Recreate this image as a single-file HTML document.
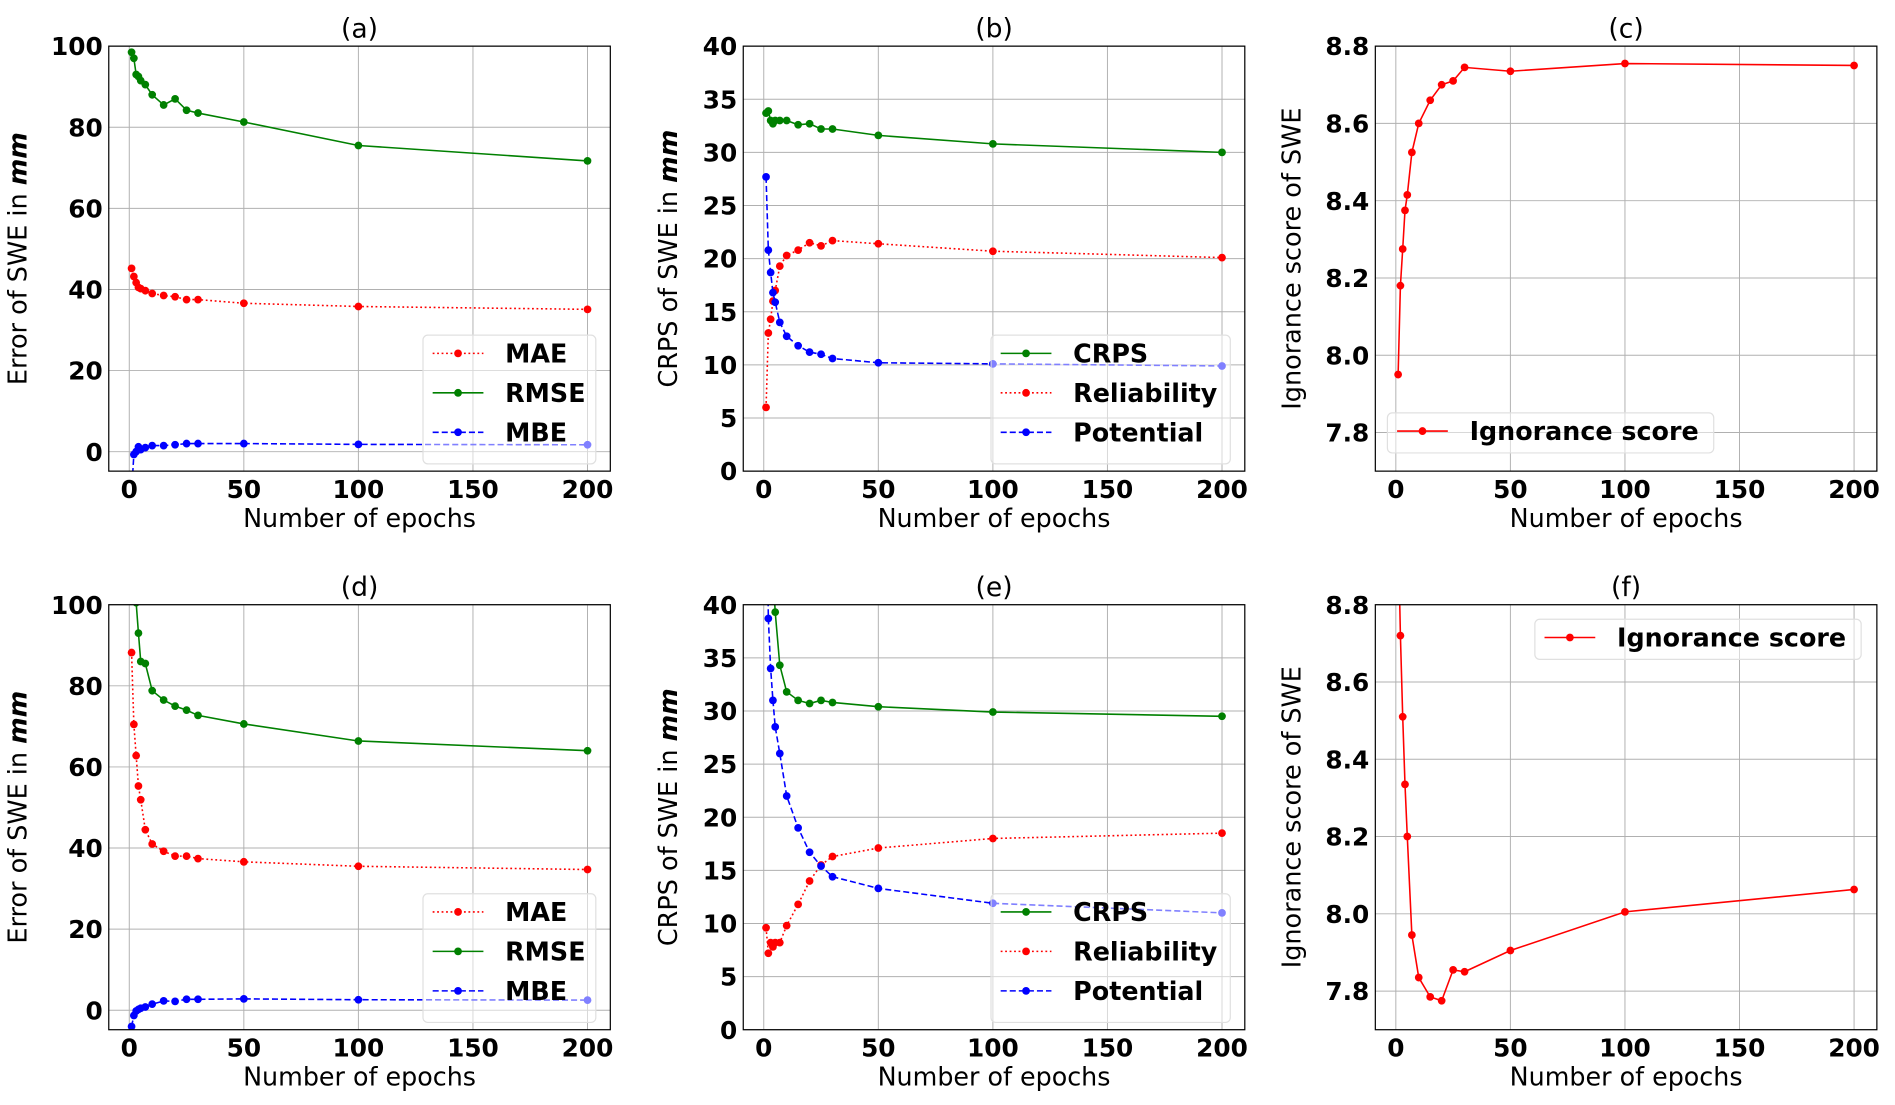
<!DOCTYPE html>
<html><head><meta charset="utf-8"><style>
html,body{margin:0;padding:0;background:#fff;}
svg{display:block;font-family:"DejaVu Sans","Liberation Sans",sans-serif;}
</style></head><body>
<svg id="fig" width="1895" height="1105" viewBox="0 0 1568 910" preserveAspectRatio="none" xmlns="http://www.w3.org/2000/svg"></svg>
<script>
const epochs = [1,2,3,4,5,7,10,15,20,25,30,50,100,200];
const aMAE  = [45.2,43.2,41.7,40.5,40.2,39.7,39.0,38.5,38.2,37.5,37.5,36.6,35.8,35.1];
const aRMSE = [98.5,97.0,93.0,92.5,91.5,90.5,88.0,85.5,87.0,84.2,83.5,81.3,75.5,71.7];
const aMBE  = [-10,-0.7,0.0,1.2,0.5,1.0,1.5,1.5,1.7,2.0,2.0,2.0,1.8,1.7];
const bCRPS = [33.7,33.9,33.0,32.7,33.0,33.0,33.0,32.6,32.7,32.2,32.2,31.6,30.8,30.0];
const bRel  = [6.0,13.0,14.3,16.0,17.0,19.3,20.3,20.8,21.5,21.2,21.7,21.4,20.7,20.1];
const bPot  = [27.7,20.8,18.7,16.8,15.9,14.0,12.7,11.8,11.2,11.0,10.6,10.2,10.1,9.9];
const cIgn  = [7.95,8.18,8.275,8.375,8.415,8.525,8.60,8.66,8.70,8.71,8.745,8.735,8.755,8.75];
const dMAE  = [88.2,70.5,62.8,55.3,51.9,44.5,41.0,39.2,38.0,38.0,37.4,36.6,35.5,34.7];
const dRMSE = [130,115,100.5,93.0,86.0,85.5,78.8,76.5,75.0,74.0,72.7,70.6,66.4,64.0];
const dMBE  = [-4.0,-1.3,-0.2,0.2,0.5,0.8,1.5,2.3,2.2,2.7,2.7,2.8,2.6,2.5];
const eCRPS = [70,55,48,43,39.3,34.3,31.8,31.0,30.7,31.0,30.8,30.4,29.9,29.5];
const eRel  = [9.6,7.2,8.2,7.8,8.2,8.2,9.8,11.8,14.0,15.5,16.3,17.1,18.0,18.5];
const ePot  = [55,38.7,34.0,31.0,28.5,26.0,22.0,19.0,16.7,15.4,14.4,13.3,11.9,11.0];
const fIgn  = [9.0,8.72,8.51,8.335,8.2,7.945,7.835,7.785,7.775,7.855,7.85,7.905,8.005,8.063];
const xTicks = [0,50,100,150,200];
const errTicks = [0,20,40,60,80,100];
const crpsTicks = [0,5,10,15,20,25,30,35,40];
const ignTicks = [7.8,8.0,8.2,8.4,8.6,8.8];

const NS="http://www.w3.org/2000/svg";
const svg=document.getElementById('fig');
function mk(tag,attrs,parent){const e=document.createElementNS(NS,tag);for(const k in attrs)e.setAttribute(k,attrs[k]);(parent||svg).appendChild(e);return e;}
const STY={
 red_dot:{c:'#ff0000',dash:'1.5,2.2'},
 green:{c:'#008000',dash:''},
 blue:{c:'#0000ff',dash:'5,2.5'},
 red:{c:'#ff0000',dash:''}
};
let clipId=0;
function panel(p){
  const g=mk('g',{});
  
  
  const X=v=>p.x0+(v-(-8.95))/(209.95+8.95)*(p.x1-p.x0);
  const Y=v=>p.y1-(v-p.ymin)/(p.ymax-p.ymin)*(p.y1-p.y0);
  xTicks.forEach(t=>{
    const l=mk('line',{x1:X(t),x2:X(t),y1:p.y0,y2:p.y1,stroke:'#b0b0b0','stroke-width':0.8},g);
    
    const tk=mk('text',{x:X(t),y:p.y1+22,'text-anchor':'middle','font-size':20.5,'font-weight':'bold'},g);
    tk.textContent=t;
    
  });
  p.yt.forEach(t=>{
    const l=mk('line',{x1:p.x0,x2:p.x1,y1:Y(t),y2:Y(t),stroke:'#b0b0b0','stroke-width':0.8},g);
    
    const tk=mk('text',{x:p.x0-5,y:Y(t)+7.5,'text-anchor':'end','font-size':20.5,'font-weight':'bold'},g);
    tk.textContent=p.fmt?t.toFixed(1):t;
    
  });
  const cid='clip'+(clipId++);
  const cp=mk('clipPath',{id:cid},g);mk('rect',{x:p.x0,y:p.y0,width:p.x1-p.x0,height:p.y1-p.y0},cp);
  const sg=mk('g',{'clip-path':'url(#'+cid+')'},g);
  p.series.forEach(s=>{
    const st=STY[s.style];
    const pts=epochs.map((e,i)=>X(e).toFixed(2)+','+Y(s.data[i]).toFixed(2)).join(' ');
    const pl=mk('polyline',{points:pts,fill:'none',stroke:st.c,'stroke-width':1.3,'stroke-dasharray':st.dash},sg);
    
    
    epochs.forEach((e,i)=>{
      const c=mk('circle',{cx:X(e),cy:Y(s.data[i]),r:3.2,fill:st.c},sg);
      
      
    });
  });
  mk('rect',{x:p.x0,y:p.y0,width:p.x1-p.x0,height:p.y1-p.y0,fill:'none',stroke:'#000','stroke-width':1},g);
  const L=p.leg;
  const lg=mk('g',{},g);
  
  mk('rect',{x:L.x,y:L.y,width:L.w,height:L.h,rx:4,fill:'rgba(255,255,255,0.5)',stroke:'#e0e0e0','stroke-width':1},lg);
  L.items.forEach((s,i)=>{
    const st=STY[s.style];const yy=L.y+15+i*32.5;
    mk('line',{x1:L.x+8,x2:L.x+50,y1:yy,y2:yy,stroke:st.c,'stroke-width':1.3,'stroke-dasharray':st.dash},lg);
    mk('circle',{cx:L.x+29,cy:yy,r:3.2,fill:st.c},lg);
    const t=mk('text',{x:L.x+68,y:yy+7.5,'font-size':21,'font-weight':'bold'},lg);
    t.textContent=s.name;
    
  });
  const ti=mk('text',{x:(p.x0+p.x1)/2,y:p.y0-7,'text-anchor':'middle','font-size':22},g);
  ti.textContent='('+p.id+')';
  const xl=mk('text',{x:(p.x0+p.x1)/2,y:p.y1+46,'text-anchor':'middle','font-size':21},g);
  xl.textContent='Number of epochs';
  const cy=(p.y0+p.y1)/2;
  const yl=mk('text',{x:p.x0-p.ylo,y:cy,'text-anchor':'middle','font-size':21,transform:'rotate(-90 '+(p.x0-p.ylo)+' '+cy+')'},g);
  
  if(p.ign){yl.textContent='Ignorance score of SWE';}
  else{yl.textContent=p.ylab+' of SWE in ';const ts=mk('tspan',{'font-weight':'bold','font-style':'italic'},yl);ts.textContent='mm';}
}
const errLeg=[{name:'MAE',style:'red_dot'},{name:'RMSE',style:'green'},{name:'MBE',style:'blue'}];
const crpsLeg=[{name:'CRPS',style:'green'},{name:'Reliability',style:'red_dot'},{name:'Potential',style:'blue'}];
const ignLeg=[{name:'Ignorance score',style:'red'}];
const rows=[{y0:38,y1:388},{y0:498,y1:848}];
const cols=[{x0:90,x1:505},{x0:615,x1:1030},{x0:1138,x1:1553}];
panel({id:'a',...cols[0],...rows[0],ymin:-4.8,ymax:100,yt:errTicks,ylab:'Error',ylo:68,
  series:[{name:'MAE',style:'red_dot',data:aMAE},{name:'RMSE',style:'green',data:aRMSE},{name:'MBE',style:'blue',data:aMBE}],
  leg:{x:350,y:276,w:143,h:106,items:errLeg}});
panel({id:'b',...cols[1],...rows[0],ymin:0,ymax:40,yt:crpsTicks,ylab:'CRPS',ylo:55,
  series:[{name:'CRPS',style:'green',data:bCRPS},{name:'Reliability',style:'red_dot',data:bRel},{name:'Potential',style:'blue',data:bPot}],
  leg:{x:820,y:276,w:198,h:106,items:crpsLeg}});
panel({id:'c',...cols[2],...rows[0],ymin:7.7,ymax:8.8,yt:ignTicks,fmt:true,ign:true,ylo:62,
  series:[{name:'Ignorance score',style:'red',data:cIgn}],
  leg:{x:1148,y:340,w:270,h:33,items:ignLeg}});
panel({id:'d',...cols[0],...rows[1],ymin:-4.8,ymax:100,yt:errTicks,ylab:'Error',ylo:68,
  series:[{name:'MAE',style:'red_dot',data:dMAE},{name:'RMSE',style:'green',data:dRMSE},{name:'MBE',style:'blue',data:dMBE}],
  leg:{x:350,y:736,w:143,h:106,items:errLeg}});
panel({id:'e',...cols[1],...rows[1],ymin:0,ymax:40,yt:crpsTicks,ylab:'CRPS',ylo:55,
  series:[{name:'CRPS',style:'green',data:eCRPS},{name:'Reliability',style:'red_dot',data:eRel},{name:'Potential',style:'blue',data:ePot}],
  leg:{x:820,y:736,w:198,h:106,items:crpsLeg}});
panel({id:'f',...cols[2],...rows[1],ymin:7.7,ymax:8.8,yt:ignTicks,fmt:true,ign:true,ylo:62,
  series:[{name:'Ignorance score',style:'red',data:fIgn}],
  leg:{x:1270,y:510,w:270,h:33,items:ignLeg}});
</script>
</body></html>
